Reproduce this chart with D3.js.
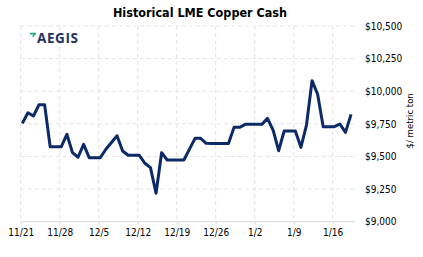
<!DOCTYPE html>
<meta charset="utf-8">
<html>
<head>
<style>
  body { margin: 0; background: #fff; }
  text { font-family: Tahoma, "DejaVu Sans Condensed", "DejaVu Sans", sans-serif; }
</style>
</head>
<body>
<div id="chartContainer"></div>
<script src="https://d3js.org/d3.v7.min.js"></script>
<script type="text/javascript">
  // daily closes, weekends/holidays carry the last price
  var dates = [
    "2021-11-21","2021-11-22","2021-11-23","2021-11-24","2021-11-25","2021-11-26","2021-11-27",
    "2021-11-28","2021-11-29","2021-11-30","2021-12-01","2021-12-02","2021-12-03","2021-12-04",
    "2021-12-05","2021-12-06","2021-12-07","2021-12-08","2021-12-09","2021-12-10","2021-12-11",
    "2021-12-12","2021-12-13","2021-12-14","2021-12-15","2021-12-16","2021-12-17","2021-12-18",
    "2021-12-19","2021-12-20","2021-12-21","2021-12-22","2021-12-23","2021-12-24","2021-12-25",
    "2021-12-26","2021-12-27","2021-12-28","2021-12-29","2021-12-30","2021-12-31","2022-01-01",
    "2022-01-02","2022-01-03","2022-01-04","2022-01-05","2022-01-06","2022-01-07","2022-01-08",
    "2022-01-09","2022-01-10","2022-01-11","2022-01-12","2022-01-13","2022-01-14","2022-01-15",
    "2022-01-16","2022-01-17","2022-01-18","2022-01-19"
  ];
  var cashPrice = [
    9754, 9835, 9810, 9897, 9897, 9575, 9575,
    9575, 9670, 9529, 9494, 9593, 9491, 9491,
    9491, 9555, 9607, 9659, 9542, 9509, 9509,
    9509, 9448, 9414, 9218, 9529, 9473, 9473,
    9473, 9473, 9556, 9639, 9639, 9601, 9599,
    9599, 9599, 9599, 9723, 9723, 9746, 9746,
    9746, 9746, 9792, 9703, 9544, 9695, 9695,
    9695, 9570, 9741, 10081, 9977, 9728, 9728,
    9728, 9749, 9685, 9823
  ];
  var yTicks = [9000, 9250, 9500, 9750, 10000, 10250, 10500];
  var xTickDates = ["2021-11-21","2021-11-28","2021-12-05","2021-12-12","2021-12-19",
                    "2021-12-26","2022-01-02","2022-01-09","2022-01-16"];

  var W = 423, H = 257;
  var plotLeft = 20.7, plotRight = 355, plotTop = 26, plotBottom = 221.7;

  var parse = d3.timeParse("%Y-%m-%d");
  var data = dates.map(function (d, i) {
    var t = parse(d);
    t.setHours(7); // points sit a little after the midnight gridlines
    return { date: t, value: cashPrice[i] };
  });

  var svg = d3.select("#chartContainer").append("svg")
    .attr("width", W).attr("height", H);

  var x = d3.scaleTime()
    .domain([parse("2021-11-21"), parse("2022-01-20")])
    .range([plotLeft, plotRight]);
  var y = d3.scaleLinear().domain([9000, 10500]).range([plotBottom, plotTop]);

  // title
  svg.append("text")
    .attr("x", 200).attr("y", 17)
    .attr("text-anchor", "middle")
    .style("font-size", "12.5px").style("font-weight", "bold")
    .style("fill", "#000")
    .text("Historical LME Copper Cash");

  // grid
  var grid = svg.append("g");
  grid.selectAll("line.h")
    .data(yTicks.slice(1))
    .enter().append("line")
      .attr("x1", plotLeft).attr("x2", plotRight)
      .attr("y1", function (d) { return y(d); })
      .attr("y2", function (d) { return y(d); })
      .style("stroke", "#e3e3e3").style("stroke-dasharray", "4,3");
  grid.selectAll("line.v")
    .data(xTickDates)
    .enter().append("line")
      .attr("x1", function (d) { return x(parse(d)); })
      .attr("x2", function (d) { return x(parse(d)); })
      .attr("y1", plotTop).attr("y2", plotBottom)
      .style("stroke", "#e3e3e3").style("stroke-dasharray", "4,3");

  // x axis
  var xAxis = d3.axisBottom(x)
    .tickValues(xTickDates.map(parse))
    .tickFormat(d3.timeFormat("%-m/%-d"))
    .tickSizeInner(3).tickSizeOuter(0).tickPadding(4);
  var gx = svg.append("g").attr("transform", "translate(0," + plotBottom + ")").call(xAxis);
  gx.attr("font-family", null);
  gx.select(".domain").attr("d", "M" + plotLeft + ",0H" + plotRight).style("stroke", "#d9d9d9");
  gx.selectAll(".tick line").style("stroke", "#d9d9d9");
  gx.selectAll("text").style("font-size", "10px").style("fill", "#000");

  // y axis on the right
  var yAxis = d3.axisRight(y)
    .tickValues(yTicks)
    .tickFormat(function (d) { return "$" + d3.format(",")(d); })
    .tickSize(0).tickPadding(10);
  var gy = svg.append("g").attr("transform", "translate(" + plotRight + ",0)").call(yAxis);
  gy.attr("font-family", null);
  gy.select(".domain").remove();
  gy.selectAll("text").style("font-size", "10px").style("fill", "#000");

  svg.append("text")
    .attr("transform", "translate(413," + ((plotTop + plotBottom) / 2 - 3) + ") rotate(-90)")
    .attr("text-anchor", "middle")
    .style("font-size", "9.5px").style("fill", "#000")
    .text("$/ metric ton");

  // logo
  svg.append("path")
    .attr("d", "M30,32.7 L36,32.7 L36,34.4 L35,34.4 L33.6,37 L32.2,37 L33.2,34.4 L30,34.4 Z")
    .style("fill", "#1ba67c");
  svg.append("text")
    .attr("x", 37).attr("y", 42.8)
    .style("font-family", "'Open Sans', sans-serif")
    .style("font-size", "13.5px").style("font-weight", "bold")
    .style("letter-spacing", "0.6px")
    .style("fill", "#1d3461")
    .text("AEGIS");

  // price line
  var line = d3.line()
    .x(function (d) { return x(d.date); })
    .y(function (d) { return y(d.value); });
  svg.append("path")
    .datum(data)
    .attr("d", line)
    .style("fill", "none")
    .style("stroke", "#0c2a67")
    .style("stroke-width", 3)
    .style("stroke-linejoin", "round");
</script>
</body>
</html>
